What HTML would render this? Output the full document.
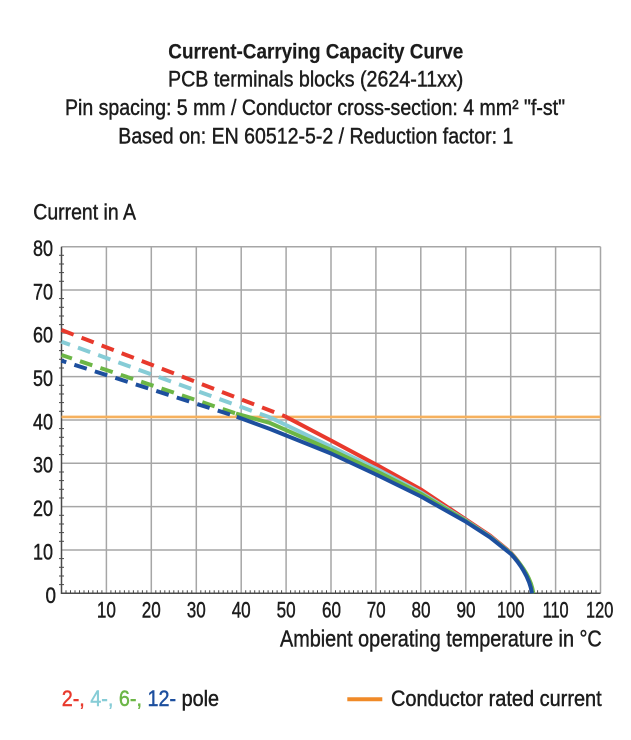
<!DOCTYPE html>
<html>
<head>
<meta charset="utf-8">
<style>
  html, body { margin: 0; padding: 0; background: #ffffff; }
  body { width: 631px; height: 740px; overflow: hidden; }
  svg { display: block; }
  text { font-family: "Liberation Sans Narrow", "Liberation Sans", sans-serif; fill: #1c1c1c; stroke: #1c1c1c; stroke-width: 0.45; }
  .t1 { stroke-width: 0.2; }
</style>
</head>
<body>
<svg width="631" height="740" viewBox="0 0 631 740" xmlns="http://www.w3.org/2000/svg">
  <rect x="0" y="0" width="631" height="740" fill="#ffffff"/>

  <!-- Titles -->
  <text class="t1" x="168.3" y="58.3" font-size="21" font-weight="bold" textLength="295" lengthAdjust="spacingAndGlyphs">Current-Carrying Capacity Curve</text>
  <text x="168" y="86.7" font-size="22" textLength="295.3" lengthAdjust="spacingAndGlyphs">PCB terminals blocks (2624-11xx)</text>
  <text x="65" y="115" font-size="22" textLength="500" lengthAdjust="spacingAndGlyphs">Pin spacing: 5 mm / Conductor cross-section: 4 mm² "f-st"</text>
  <text x="118.3" y="143.3" font-size="22" textLength="395" lengthAdjust="spacingAndGlyphs">Based on: EN 60512-5-2 / Reduction factor: 1</text>

  <!-- Y axis title -->
  <text x="33.3" y="219.3" font-size="22" textLength="102.7" lengthAdjust="spacingAndGlyphs">Current in A</text>

  <!-- Grid -->
  <g stroke="#a6a6a6" stroke-width="1.5" fill="none">
    <line x1="106.4" y1="246.7" x2="106.4" y2="593.3"/>
    <line x1="151.3" y1="246.7" x2="151.3" y2="593.3"/>
    <line x1="196.3" y1="246.7" x2="196.3" y2="593.3"/>
    <line x1="241.2" y1="246.7" x2="241.2" y2="593.3"/>
    <line x1="286.1" y1="246.7" x2="286.1" y2="593.3"/>
    <line x1="331.0" y1="246.7" x2="331.0" y2="593.3"/>
    <line x1="375.9" y1="246.7" x2="375.9" y2="593.3"/>
    <line x1="420.8" y1="246.7" x2="420.8" y2="593.3"/>
    <line x1="465.8" y1="246.7" x2="465.8" y2="593.3"/>
    <line x1="510.7" y1="246.7" x2="510.7" y2="593.3"/>
    <line x1="555.6" y1="246.7" x2="555.6" y2="593.3"/>
    <line x1="600.5" y1="246.7" x2="600.5" y2="593.3"/>

    <line x1="61.5" y1="550.0" x2="600.5" y2="550.0"/>
    <line x1="61.5" y1="506.6" x2="600.5" y2="506.6"/>
    <line x1="61.5" y1="463.3" x2="600.5" y2="463.3"/>
    <line x1="61.5" y1="420.0" x2="600.5" y2="420.0"/>
    <line x1="61.5" y1="376.6" x2="600.5" y2="376.6"/>
    <line x1="61.5" y1="333.3" x2="600.5" y2="333.3"/>
    <line x1="61.5" y1="290.0" x2="600.5" y2="290.0"/>
    <line x1="61.5" y1="246.7" x2="600.5" y2="246.7"/>
  </g>

  <!-- Axes -->
  <g stroke="#4a4a4a" stroke-width="1.5">
    <line x1="61.5" y1="246.7" x2="61.5" y2="594"/>
    <line x1="61" y1="593.3" x2="600.5" y2="593.3"/>
  </g>

  <!-- Y minor ticks (every 2 units) -->
  <g stroke="#4a4a4a" stroke-width="1">
    <line x1="59" y1="584.6" x2="64" y2="584.6"/>
    <line x1="59" y1="576.0" x2="64" y2="576.0"/>
    <line x1="59" y1="567.3" x2="64" y2="567.3"/>
    <line x1="59" y1="558.6" x2="64" y2="558.6"/>
    <line x1="59" y1="541.3" x2="64" y2="541.3"/>
    <line x1="59" y1="532.6" x2="64" y2="532.6"/>
    <line x1="59" y1="524.0" x2="64" y2="524.0"/>
    <line x1="59" y1="515.3" x2="64" y2="515.3"/>
    <line x1="59" y1="498.0" x2="64" y2="498.0"/>
    <line x1="59" y1="489.3" x2="64" y2="489.3"/>
    <line x1="59" y1="480.6" x2="64" y2="480.6"/>
    <line x1="59" y1="472.0" x2="64" y2="472.0"/>
    <line x1="59" y1="454.6" x2="64" y2="454.6"/>
    <line x1="59" y1="446.0" x2="64" y2="446.0"/>
    <line x1="59" y1="437.3" x2="64" y2="437.3"/>
    <line x1="59" y1="428.6" x2="64" y2="428.6"/>
    <line x1="59" y1="411.3" x2="64" y2="411.3"/>
    <line x1="59" y1="402.6" x2="64" y2="402.6"/>
    <line x1="59" y1="394.0" x2="64" y2="394.0"/>
    <line x1="59" y1="385.3" x2="64" y2="385.3"/>
    <line x1="59" y1="368.0" x2="64" y2="368.0"/>
    <line x1="59" y1="359.3" x2="64" y2="359.3"/>
    <line x1="59" y1="350.6" x2="64" y2="350.6"/>
    <line x1="59" y1="342.0" x2="64" y2="342.0"/>
    <line x1="59" y1="324.6" x2="64" y2="324.6"/>
    <line x1="59" y1="316.0" x2="64" y2="316.0"/>
    <line x1="59" y1="307.3" x2="64" y2="307.3"/>
    <line x1="59" y1="298.6" x2="64" y2="298.6"/>
    <line x1="59" y1="281.3" x2="64" y2="281.3"/>
    <line x1="59" y1="272.6" x2="64" y2="272.6"/>
    <line x1="59" y1="264.0" x2="64" y2="264.0"/>
    <line x1="59" y1="255.3" x2="64" y2="255.3"/>
  </g>

  <!-- X minor ticks (every 1 unit) -->
  <path stroke="#4a4a4a" stroke-width="1" fill="none"
    d="M66,590.3V593.3 M70.5,590.3V593.3 M75,590.3V593.3 M79.5,590.3V593.3 M84,590.3V593.3 M88.5,590.3V593.3 M92.9,590.3V593.3 M97.4,590.3V593.3 M101.9,590.3V593.3
       M110.9,590.3V593.3 M115.4,590.3V593.3 M119.9,590.3V593.3 M124.4,590.3V593.3 M128.9,590.3V593.3 M133.4,590.3V593.3 M137.9,590.3V593.3 M142.4,590.3V593.3 M146.8,590.3V593.3
       M155.8,590.3V593.3 M160.3,590.3V593.3 M164.8,590.3V593.3 M169.3,590.3V593.3 M173.8,590.3V593.3 M178.3,590.3V593.3 M182.8,590.3V593.3 M187.3,590.3V593.3 M191.8,590.3V593.3
       M200.8,590.3V593.3 M205.3,590.3V593.3 M209.7,590.3V593.3 M214.2,590.3V593.3 M218.7,590.3V593.3 M223.2,590.3V593.3 M227.7,590.3V593.3 M232.2,590.3V593.3 M236.7,590.3V593.3
       M245.7,590.3V593.3 M250.2,590.3V593.3 M254.7,590.3V593.3 M259.2,590.3V593.3 M263.6,590.3V593.3 M268.1,590.3V593.3 M272.6,590.3V593.3 M277.1,590.3V593.3 M281.6,590.3V593.3
       M290.6,590.3V593.3 M295.1,590.3V593.3 M299.6,590.3V593.3 M304.1,590.3V593.3 M308.6,590.3V593.3 M313.1,590.3V593.3 M317.5,590.3V593.3 M322,590.3V593.3 M326.5,590.3V593.3
       M335.5,590.3V593.3 M340,590.3V593.3 M344.5,590.3V593.3 M349,590.3V593.3 M353.5,590.3V593.3 M358,590.3V593.3 M362.5,590.3V593.3 M367,590.3V593.3 M371.4,590.3V593.3
       M380.4,590.3V593.3 M384.9,590.3V593.3 M389.4,590.3V593.3 M393.9,590.3V593.3 M398.4,590.3V593.3 M402.9,590.3V593.3 M407.4,590.3V593.3 M411.9,590.3V593.3 M416.4,590.3V593.3
       M425.3,590.3V593.3 M429.8,590.3V593.3 M434.3,590.3V593.3 M438.8,590.3V593.3 M443.3,590.3V593.3 M447.8,590.3V593.3 M452.3,590.3V593.3 M456.8,590.3V593.3 M461.3,590.3V593.3
       M470.3,590.3V593.3 M474.8,590.3V593.3 M479.2,590.3V593.3 M483.7,590.3V593.3 M488.2,590.3V593.3 M492.7,590.3V593.3 M497.2,590.3V593.3 M501.7,590.3V593.3 M506.2,590.3V593.3
       M515.2,590.3V593.3 M519.7,590.3V593.3 M524.2,590.3V593.3 M528.7,590.3V593.3 M533.1,590.3V593.3 M537.6,590.3V593.3 M542.1,590.3V593.3 M546.6,590.3V593.3 M551.1,590.3V593.3
       M560.1,590.3V593.3 M564.6,590.3V593.3 M569.1,590.3V593.3 M573.6,590.3V593.3 M578.1,590.3V593.3 M582.6,590.3V593.3 M587,590.3V593.3 M591.5,590.3V593.3 M596,590.3V593.3"/>

  <!-- Conductor rated current line -->
  <line x1="61.5" y1="416.9" x2="600.5" y2="416.9" stroke="#f6b15e" stroke-width="2.6"/>

  <!-- Dashed portions -->
  <g fill="none" stroke-width="4" stroke-dasharray="13 8.5" stroke-linecap="butt">
    <path d="M61.5,330 L285,416.3" stroke="#e8392c"/>
    <path d="M61.5,341.7 L271,417.8" stroke="#86ccd6" stroke-dashoffset="4"/>
    <path d="M61.5,355 L236,413.5" stroke="#6cb646" stroke-dashoffset="2"/>
    <path d="M61.5,360.7 L230,414.5" stroke="#1d4f9e" stroke-dashoffset="8"/>
  </g>

  <!-- Solid portions -->
  <g fill="none" stroke-width="4" stroke-linejoin="round" stroke-linecap="butt">
    <path stroke="#e8392c" d="M285,416.3 L331,440.5 L376,464.5 L421,489.5 L466,519.5 L490,535.5 L510.7,552.5 C519,561.5 530,577 532.3,593.3"/>
    <path stroke="#86ccd6" d="M271,417.8 L331,446.7 L376,468.5 L421,492.5 L466,520.5 L490,536.5 L510.7,553 C519,562 530,577 532.3,593.3"/>
    <path stroke="#6cb646" d="M236,413.5 L270,423 L331,450 L376,471 L421,493.8 L466,521 L490,537 L510.7,553.3 C519.5,562.3 531,577 533.3,593.3"/>
    <path stroke="#1d4f9e" d="M236.7,416.8 L270,429 L331,453.5 L376,474.5 L421,496.5 L466,521.8 L490,537.3 L510.7,553.8 C519,562.5 529.5,577 532,593.3"/>
  </g>

  <!-- Y tick labels -->
  <g font-size="22" text-anchor="end">
    <text x="53" y="256" textLength="20" lengthAdjust="spacingAndGlyphs">80</text>
    <text x="53" y="299.3" textLength="20" lengthAdjust="spacingAndGlyphs">70</text>
    <text x="53" y="342.6" textLength="20" lengthAdjust="spacingAndGlyphs">60</text>
    <text x="53" y="385.9" textLength="20" lengthAdjust="spacingAndGlyphs">50</text>
    <text x="53" y="429.3" textLength="20" lengthAdjust="spacingAndGlyphs">40</text>
    <text x="53" y="472.6" textLength="20" lengthAdjust="spacingAndGlyphs">30</text>
    <text x="53" y="515.9" textLength="20" lengthAdjust="spacingAndGlyphs">20</text>
    <text x="53" y="559.3" textLength="20" lengthAdjust="spacingAndGlyphs">10</text>
    <text x="56" y="603" textLength="10.5" lengthAdjust="spacingAndGlyphs">0</text>
  </g>

  <!-- X tick labels -->
  <g font-size="22" text-anchor="middle">
    <text x="106.4" y="617.7" textLength="19" lengthAdjust="spacingAndGlyphs">10</text>
    <text x="151.3" y="617.7" textLength="19" lengthAdjust="spacingAndGlyphs">20</text>
    <text x="196.3" y="617.7" textLength="19" lengthAdjust="spacingAndGlyphs">30</text>
    <text x="241.2" y="617.7" textLength="19" lengthAdjust="spacingAndGlyphs">40</text>
    <text x="286.1" y="617.7" textLength="19" lengthAdjust="spacingAndGlyphs">50</text>
    <text x="331.5" y="617.7" textLength="19" lengthAdjust="spacingAndGlyphs">60</text>
    <text x="376.2" y="617.7" textLength="19" lengthAdjust="spacingAndGlyphs">70</text>
    <text x="421" y="617.7" textLength="19" lengthAdjust="spacingAndGlyphs">80</text>
    <text x="466" y="617.7" textLength="19" lengthAdjust="spacingAndGlyphs">90</text>
    <text x="510.7" y="617.7" textLength="27.3" lengthAdjust="spacingAndGlyphs">100</text>
    <text x="555.6" y="617.7" textLength="26" lengthAdjust="spacingAndGlyphs">110</text>
    <text x="599.7" y="617.7" textLength="27.3" lengthAdjust="spacingAndGlyphs">120</text>
  </g>

  <!-- X axis title -->
  <text x="280" y="646.7" font-size="23" textLength="321.7" lengthAdjust="spacingAndGlyphs">Ambient operating temperature in °C</text>

  <!-- Legend -->
  <text x="61.7" y="706" font-size="22" stroke-width="0.3" textLength="157.3" lengthAdjust="spacingAndGlyphs"><tspan fill="#e8392c" stroke="#e8392c">2-,</tspan> <tspan fill="#86ccd6" stroke="#86ccd6">4-,</tspan> <tspan fill="#6cb646" stroke="#6cb646">6-,</tspan> <tspan fill="#1d4f9e" stroke="#1d4f9e">12-</tspan> <tspan fill="#1c1c1c" stroke="#1c1c1c">pole</tspan></text>

  <line x1="347.3" y1="699.3" x2="382.3" y2="699.3" stroke="#f08a28" stroke-width="4"/>
  <text x="391" y="706" font-size="22" textLength="210.7" lengthAdjust="spacingAndGlyphs">Conductor rated current</text>
</svg>
</body>
</html>
